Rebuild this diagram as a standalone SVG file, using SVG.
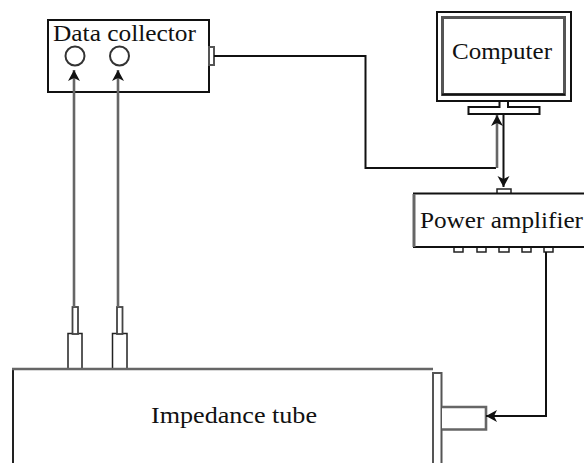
<svg xmlns="http://www.w3.org/2000/svg" width="584" height="463" viewBox="0 0 584 463">
<style>
.b{fill:#fff;stroke:#111;stroke-width:2}
.g{fill:none;stroke:#666;stroke-width:2.6}
.w{fill:#fff;stroke:#555;stroke-width:2}
.k{fill:none;stroke:#111;stroke-width:2}
.p{fill:#fff;stroke:#222;stroke-width:1.5}
.t{font-family:"Liberation Serif",serif;font-size:24px;fill:#111}
</style>
<defs>
<marker id="a" markerUnits="userSpaceOnUse" markerWidth="13" markerHeight="14" refX="11" refY="6.500" orient="auto"><path d="M0 0.500L11 6.500L0 12.500L3 6.500Z" fill="#111"/></marker>
</defs>
<rect width="584" height="463" fill="#fff"/>
<g id="data-collector">
<rect class="b" x="48" y="20" width="161" height="72"/>
<rect class="w" x="209" y="47" width="5" height="18"/>
<circle cx="75" cy="56" r="9.500" fill="#fff" stroke="#333" stroke-width="2"/>
<circle cx="119.500" cy="56" r="9.500" fill="#fff" stroke="#333" stroke-width="2"/>
<text class="t" x="53" y="41" textLength="143" lengthAdjust="spacingAndGlyphs">Data collector</text>
</g>
<g id="computer">
<rect class="b" x="437" y="12" width="134" height="89"/>
<rect x="442.500" y="17.500" width="122" height="77" fill="#fff" stroke="#555" stroke-width="3"/>
<path class="k" d="M442 94.500H565"/>
<path class="k" d="M499.500 101V107H468.500V114H539.500V107H508V101" fill="#fff"/>
<text class="t" x="452" y="59" textLength="100" lengthAdjust="spacingAndGlyphs">Computer</text>
</g>
<g id="power-amplifier">
<rect class="p" x="497" y="189" width="14" height="5"/>
<rect class="p" x="454" y="247" width="9" height="5"/>
<rect class="p" x="477" y="247" width="9" height="5"/>
<rect class="p" x="499" y="247" width="10" height="5"/>
<rect class="p" x="522" y="247" width="9" height="5"/>
<rect class="p" x="544" y="247" width="9" height="5"/>
<path d="M584 193.500H414V247H584" fill="#fff" stroke="#111" stroke-width="2"/>
<path d="M414 194V247" stroke="#666" stroke-width="3"/>
<text class="t" x="420" y="228" textLength="163" lengthAdjust="spacingAndGlyphs">Power amplifier</text>
</g>
<g id="impedance-tube">
<rect class="p" x="68" y="333.500" width="14" height="35.500" stroke-width="1.800"/>
<rect class="p" x="112.500" y="333.500" width="14.500" height="35.500" stroke-width="1.800"/>
<rect x="72.500" y="307" width="5.500" height="27" fill="#fff" stroke="#444" stroke-width="1.800"/>
<rect x="117" y="307" width="5.500" height="27" fill="#fff" stroke="#444" stroke-width="1.800"/>
<path d="M13 463V369" fill="none" stroke="#222" stroke-width="2"/>
<path d="M12 369H433" stroke="#666" stroke-width="2.600"/>
<path class="w" d="M433 463V373H441.500V463"/>
<path d="M442 407H486V429.500H442" fill="#fff" stroke="#666" stroke-width="2.600"/>
<text class="t" x="151" y="423" textLength="166" lengthAdjust="spacingAndGlyphs">Impedance tube</text>
</g>
<g id="connectors">
<path class="g" d="M74 307V70" marker-end="url(#a)"/>
<path class="g" d="M118 307V70" marker-end="url(#a)"/>
<path class="k" d="M214 56H365.500V168H496"/>
<path class="g" d="M497 168V115" marker-end="url(#a)"/>
<path class="k" d="M503.500 114V187" marker-end="url(#a)"/>
<path class="k" d="M546 252V416H486" marker-end="url(#a)"/>
</g>
</svg>
